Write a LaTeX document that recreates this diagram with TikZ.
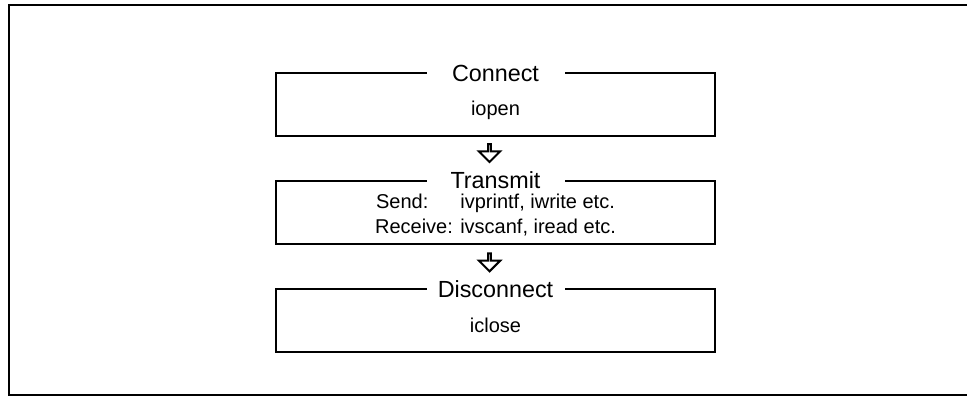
\documentclass[tikz,border=0pt]{standalone}
\usepackage{fontspec}
\setmainfont{Liberation Sans}
\usetikzlibrary{positioning, shapes.arrows}

\tikzset{
    phase/.style={draw, line width=1.6pt, minimum width=329.25pt, minimum height=47.25pt, inner sep=0pt, outer sep=0pt},
    phasename/.style={fill=white, minimum width=103.5pt, minimum height=0pt, inner sep=0pt, font=\fontsize{17.5}{20}\selectfont},
    calls/.style={font=\fontsize{15}{18.5}\selectfont, align=center, inner sep=0pt},
    downarrow/.style={single arrow, draw, line width=1.5pt, shape border rotate=270, minimum height=13.5pt, minimum width=16pt, single arrow head extend=5pt, inner sep=0pt, outer sep=0pt}
}

\begin{document}
\begin{tikzpicture}[x=0.75pt, y=-0.75pt]
    \useasboundingbox (0, 0) rectangle (967, 397);
    \draw[line width=1.6pt] (9, 5) rectangle (975, 395);

    \node[phase] (conn) at (495.5, 104.5) {};
    \node[phase, below=33.75pt of conn] (trans) {};
    \node[phase, below=33.75pt of trans] (disc) {};

    \node[phasename] (conn-name) at (conn.north) {Connect};
    \node[phasename, yshift=1pt] (trans-name) at (trans.north) {Transmit};
    \node[phasename] (disc-name) at (disc.north) {Disconnect};

    \node[calls, yshift=-4pt] (conn-calls) at (conn.center) {iopen};
    \node[calls, yshift=-2pt] (trans-calls) at (trans.center) {Send:\hspace{24pt}ivprintf, iwrite etc.\\Receive: ivscanf, iread etc.};
    \node[calls, yshift=-4pt] (disc-calls) at (disc.center) {iclose};

    \node[downarrow, below=6pt of conn, xshift=-4.5pt] (arr1) {};
    \node[downarrow, below=7pt of trans, xshift=-4.5pt] (arr2) {};
\end{tikzpicture}
\end{document}
